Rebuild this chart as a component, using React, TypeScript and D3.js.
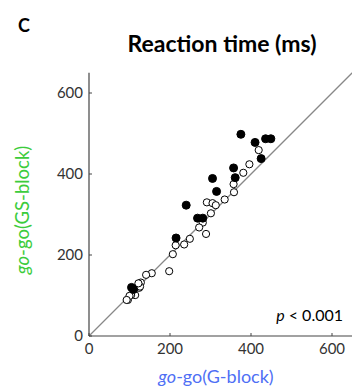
import React from "react";
import * as d3 from "d3";

const ticks = [0, 200, 400, 600];
const filledX = [375, 410, 436, 449, 425, 357, 361, 305, 315, 240, 268, 281, 215, 105, 110];
const filledY = [498, 478, 487, 487, 438, 415, 391, 389, 357, 323, 291, 291, 242, 120, 115];
const openX = [419, 396, 381, 357, 358, 335, 291, 305, 313, 301, 281, 272, 289, 249, 235, 214, 207, 198, 155, 141, 128, 124, 114, 104, 96, 100, 93, 126, 122];
const openY = [459, 424, 403, 375, 355, 337, 330, 328, 323, 303, 280, 268, 252, 240, 226, 224, 202, 160, 155, 151, 132, 119, 101, 101, 89, 99, 89, 122, 130];

export default function App() {
  const W = 352, H = 392;
  const x0 = 89, y0 = 336;
  const k = 0.405;
  const x = d3.scaleLinear().domain([0, 650]).range([x0, x0 + 650 * k]);
  const y = d3.scaleLinear().domain([0, 650]).range([y0, y0 - 650 * k]);
  const font = "Lato, 'Open Sans', sans-serif";
  const axisColor = "#444";
  return (
    <svg width={W} height={H} style={{ position: "absolute", left: 0, top: 0 }} fontFamily={font}>
      <text x={18} y={32} fontSize={18} fontWeight="bold" fill="#000">C</text>
      <text x={222} y={52} fontSize={23} fontWeight="bold" textAnchor="middle" fill="#000">Reaction time (ms)</text>
      <line x1={x(0)} y1={y(0)} x2={x(650)} y2={y(650)} stroke="#888" strokeWidth={1.3} />
      <line x1={x(0)} y1={y(0)} x2={x(650)} y2={y(0)} stroke={axisColor} strokeWidth={1.2} />
      <line x1={x(0)} y1={y(0)} x2={x(0)} y2={y(650)} stroke={axisColor} strokeWidth={1.2} />
      {ticks.map((t) => (
        <g key={"xt" + t}>
          <line x1={x(t)} x2={x(t)} y1={y(0)} y2={y(0) - 3} stroke={axisColor} />
          <text x={x(t)} y={y(0) + 18} fontSize={15} textAnchor="middle" fill="#333">{t}</text>
        </g>
      ))}
      {ticks.map((t) => (
        <g key={"yt" + t}>
          <line x1={x(0)} x2={x(0) + 3} y1={y(t)} y2={y(t)} stroke={axisColor} />
          <text x={x(0) - 6} y={y(t) + 5} fontSize={15} textAnchor="end" fill="#333">{t}</text>
        </g>
      ))}
      {openX.map((v, i) => (
        <circle key={"o" + i} cx={x(v)} cy={y(openY[i])} r={3.6} fill="#fff" stroke="#000" strokeWidth={1} />
      ))}
      {filledX.map((v, i) => (
        <circle key={"f" + i} cx={x(v)} cy={y(filledY[i])} r={4} fill="#000" stroke="#000" strokeWidth={1} />
      ))}
      <text x={343} y={321} fontSize={16} textAnchor="end" fill="#000">
        <tspan fontStyle="italic">p</tspan> &lt; 0.001
      </text>
      <text x={216} y={383} fontSize={18} textAnchor="middle" fill="#4f6ff5">
        <tspan fontStyle="italic">go</tspan>-go(G-block)
      </text>
      <text transform="translate(29,210) rotate(-90)" fontSize={18.5} textAnchor="middle" fill="#3ccc3c">
        <tspan fontStyle="italic">go</tspan>-go(GS-block)
      </text>
    </svg>
  );
}
